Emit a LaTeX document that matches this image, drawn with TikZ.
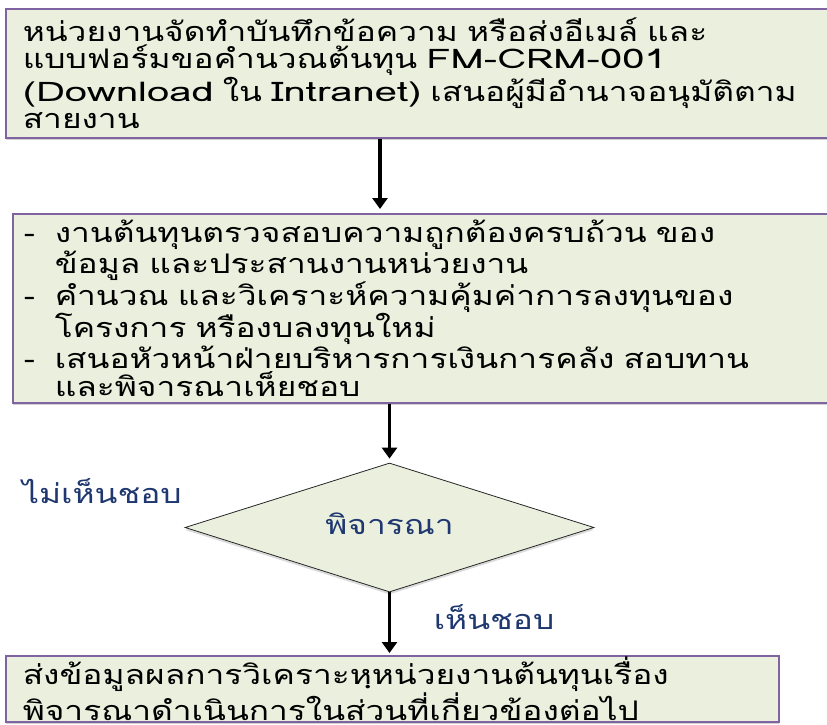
\documentclass[tikz,border=0pt]{standalone}
\usepackage{fontspec}
\newfontfamily\thaifont[Script=Thai,FakeStretch=1.24]{Loma}
\newfontfamily\latfont[FakeStretch=1.48]{Loma}
\newcommand{\lat}[1]{{\latfont #1}}
\usetikzlibrary{shapes.geometric,arrows.meta,shadows}
\definecolor{boxfill}{RGB}{235,240,222}
\definecolor{boxline}{RGB}{128,100,162}
\definecolor{labelblue}{RGB}{31,56,112}
\begin{document}
\setlength{\lineskiplimit}{-100pt}%
\begin{tikzpicture}[x=1pt,y=-1pt,
  procbox/.style={draw=boxline, line width=1.6pt, fill=boxfill, anchor=north west,
    inner xsep=17pt, inner ysep=0pt, align=left,
    font=\thaifont\fontsize{27}{27.3}\selectfont,
    drop shadow={shadow xshift=0pt, shadow yshift=-2.5pt, opacity=0.25, fill=black!70}},
  decision/.style={diamond, aspect=3.17, draw=black!85, line width=0.8pt, fill=boxfill, inner sep=0pt,
    minimum width=409pt, minimum height=129pt, text=labelblue,
    text height=13.5pt, text depth=0pt,
    font=\thaifont\fontsize{27}{28}\selectfont,
    drop shadow={shadow xshift=0pt, shadow yshift=-2.5pt, opacity=0.2, fill=black!70}},
  lbl/.style={text=labelblue, inner sep=0pt, text height=13.5pt, text depth=0pt,
    font=\thaifont\fontsize{27}{28}\selectfont},
  arr/.style={-{Triangle[length=11pt,width=15pt]}, line width=3.2pt, black},
  ]
\path[use as bounding box, clip] (0,0) rectangle (827,724);
\fill[white] (0,0) rectangle (827,724);

\node[procbox, text width=811pt, minimum height=129pt] (b1) at (5,8)
  {หน่วยงานจัดทำบันทึกข้อความ หรือส่งอีเมล์ และ\\
   แบบฟอร์มขอคำนวณต้นทุน \lat{FM-CRM-001}\\
   \lat{(Download} ใน \lat{Intranet)} เสนอผู้มีอำนาจอนุมัติตาม\\
   สายงาน};

\node[procbox, inner xsep=11pt, text width=816pt, minimum height=189pt,
  font=\thaifont\fontsize{27}{28.2}\selectfont] (b2) at (12,213)
  {\makebox[31pt][l]{-}งานต้นทุนตรวจสอบความถูกต้องครบถ้วน ของ\\
   \hspace*{31pt}ข้อมูล และประสานงานหน่วยงาน\\
   \makebox[31pt][l]{-}คำนวณ และวิเคราะห์ความคุ้มค่าการลงทุนของ\\
   \hspace*{31pt}โครงการ หรืองบลงทุนใหม่\\
   \makebox[31pt][l]{-}เสนอหัวหน้าฝ่ายบริหารการเงินการคลัง สอบทาน\\
   \hspace*{31pt}และพิจารณาเห็ยชอบ};

\node[decision] (d) at (389.5,527.5) {พิจารณา};

\node[procbox, text width=739pt, minimum height=66pt,
  font=\thaifont\fontsize{27}{29}\selectfont] (b3) at (5,655)
  {ส่งข้อมูลผลการวิเคราะหฺหน่วยงานต้นทุนเรื่อง\\
   พิจารณาดำเนินการในส่วนที่เกี่ยวข้องต่อไป};

\node[lbl] (no) at (102,497) {ไม่เห็นชอบ};
\node[lbl] (yes) at (494,623) {เห็นชอบ};

\coordinate (a1x) at (380,0);
\draw[arr, shorten >=4pt] (b1.south -| a1x) -- (b2.north -| a1x);
\draw[arr, shorten >=4pt] (b2.south -| d.north) -- (d.north);
\draw[arr, shorten >=2pt] (d.south) -- (b3.north -| d.south);
\end{tikzpicture}
\end{document}
